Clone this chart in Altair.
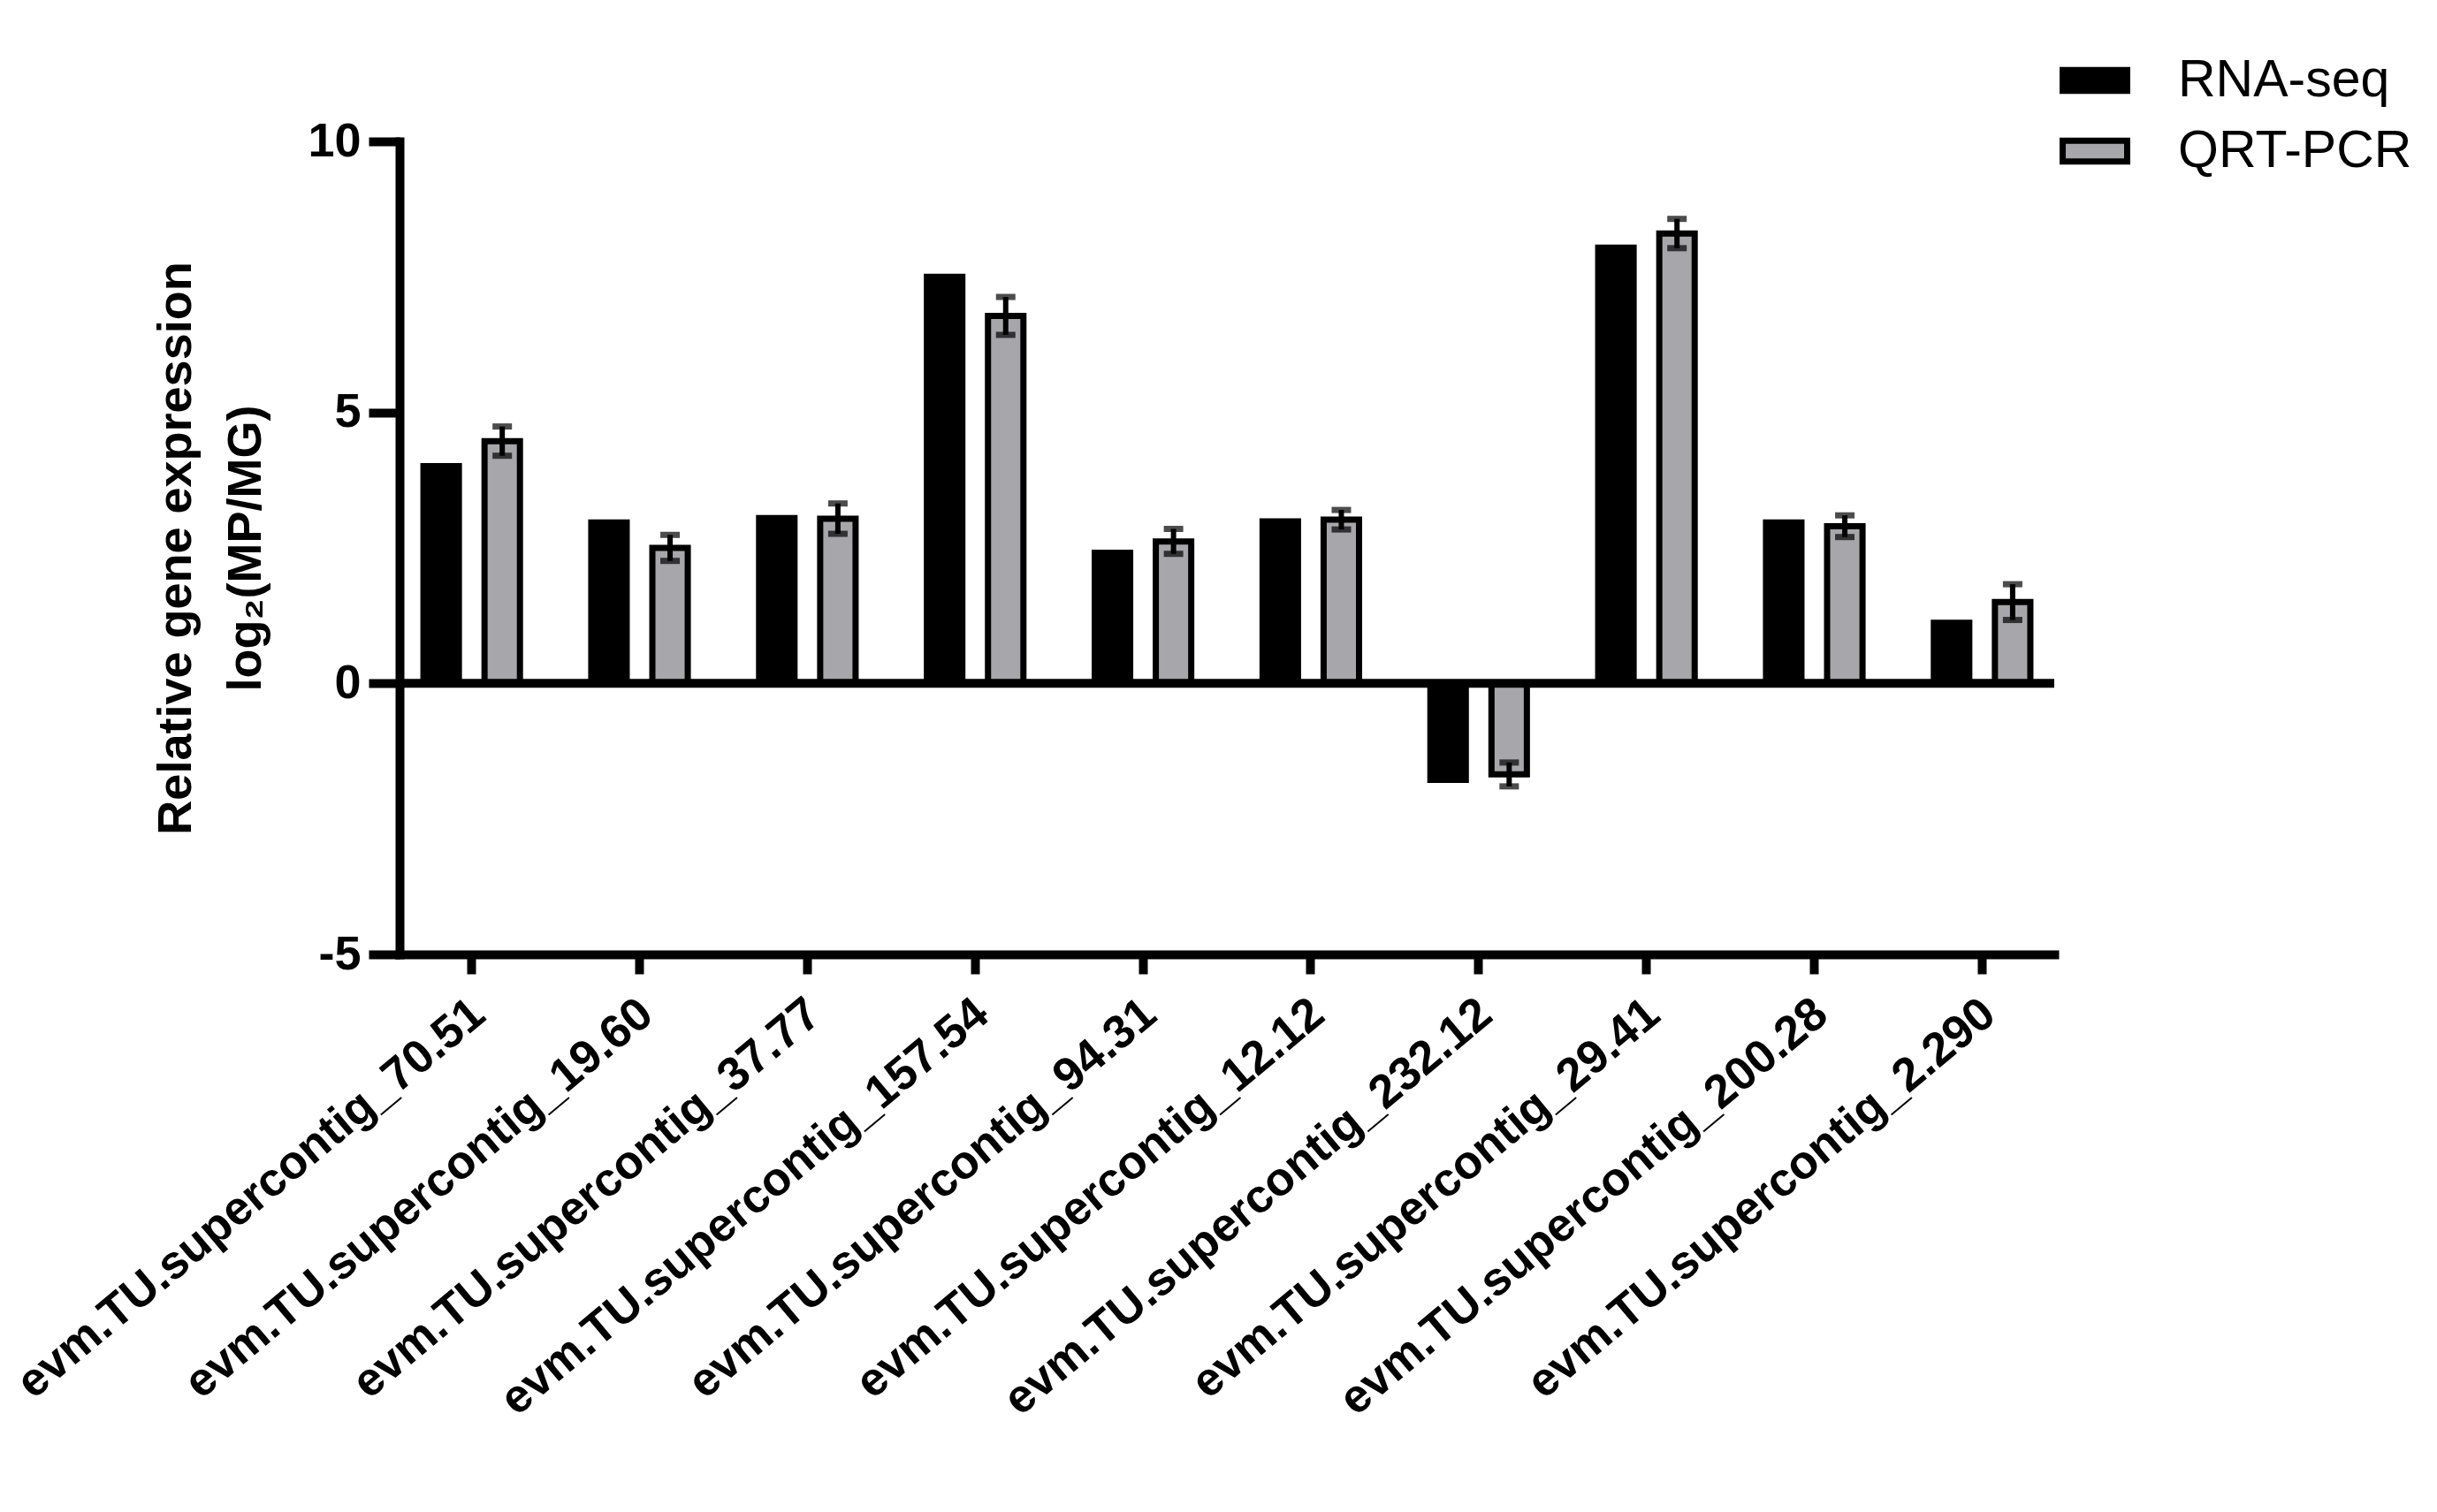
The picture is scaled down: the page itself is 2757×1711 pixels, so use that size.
import altair as alt
import pandas as pd

genes = [
    "evm.TU.supercontig_70.51", "evm.TU.supercontig_19.60", "evm.TU.supercontig_37.77",
    "evm.TU.supercontig_157.54", "evm.TU.supercontig_94.31", "evm.TU.supercontig_12.12",
    "evm.TU.supercontig_232.12", "evm.TU.supercontig_29.41", "evm.TU.supercontig_200.28",
    "evm.TU.supercontig_2.290",
]
series = ["RNA-seq", "QRT-PCR"]
rna_seq = [4.01, 2.97, 3.05, 7.50, 2.41, 2.99, -1.78, 8.04, 2.97, 1.12]
qrt_pcr = [4.47, 2.50, 3.04, 6.78, 2.62, 3.02, -1.68, 8.30, 2.90, 1.50]
qrt_err = [0.27, 0.24, 0.28, 0.35, 0.23, 0.18, 0.22, 0.27, 0.20, 0.33]
y_ticks = [-5, 0, 5, 10]

rows = []
for g, r, q, e in zip(genes, rna_seq, qrt_pcr, qrt_err):
    rows.append({"gene": g, "series": "RNA-seq", "value": r, "lo": None, "hi": None})
    rows.append({"gene": g, "series": "QRT-PCR", "value": q, "lo": q - e, "hi": q + e})
df = pd.DataFrame(rows)

FONT = "Liberation Sans"

x_enc = alt.X(
    "gene:N", sort=genes,
    scale=alt.Scale(paddingInner=0.425, paddingOuter=0.1425),
    axis=alt.Axis(
        title=None, labelAngle=-40, labelAlign="right", labelBaseline="middle",
        labelFontSize=53, labelFontWeight="bold", labelFont=FONT, labelColor="black",
        labelPadding=38, labelOffset=8, labelOverlap=False, labelLimit=2000,
        tickSize=22, tickWidth=10, tickColor="black",
        domainWidth=10, domainColor="black", domainCap="square",
    ),
)
xoff_enc = alt.XOffset("series:N", sort=series, scale=alt.Scale(paddingInner=0.42))
y_scale = alt.Scale(domain=[-5, 10], nice=False)

base = alt.Chart(df)

bars = base.mark_bar(stroke="black", strokeWidth=7).encode(
    x=x_enc,
    xOffset=xoff_enc,
    y=alt.Y(
        "value:Q", scale=y_scale,
        axis=alt.Axis(
            values=y_ticks, grid=False,
            labelExpr="datum.value < 0 ? '-' + toString(-datum.value) : toString(datum.value)",
            title=["Relative gene expression", "log\u2082(MP/MG)"],
            titleFontSize=54, titleFontWeight="bold", titleFont=FONT, titleColor="black",
            titleLineHeight=79, titlePadding=42,
            labelFontSize=54, labelFontWeight="bold", labelFont=FONT, labelColor="black",
            labelPadding=9,
            tickSize=35, tickWidth=10, tickColor="black",
            domainWidth=10, domainColor="black", domainCap="square",
        ),
    ),
    fill=alt.Fill(
        "series:N",
        scale=alt.Scale(domain=series, range=["black", "#a7a6ab"]),
        legend=alt.Legend(
            title=None, orient="none", legendX=1878, legendY=-109,
            labelFontSize=59, labelFont=FONT, labelColor="black", labelOffset=54,
            labelLimit=1000,
            symbolType="M-1,-0.32H1V0.32H-1Z", symbolSize=5329,
            symbolStrokeColor="black", symbolStrokeWidth=7, rowPadding=10, padding=0,
        ),
    ),
)

err = base.transform_filter("datum.series == 'QRT-PCR'")
stems = err.mark_rule(color="black", strokeWidth=6).encode(
    x=alt.X("gene:N", sort=genes), xOffset=alt.XOffset("series:N", sort=series),
    y="lo:Q", y2="hi:Q",
)
caps_lo = err.mark_tick(color="black", thickness=7, size=22).encode(
    x=alt.X("gene:N", sort=genes), xOffset=alt.XOffset("series:N", sort=series),
    y="lo:Q",
)
caps_hi = err.mark_tick(color="black", thickness=7, size=22).encode(
    x=alt.X("gene:N", sort=genes), xOffset=alt.XOffset("series:N", sort=series),
    y="hi:Q",
)
zero = alt.Chart(pd.DataFrame({"z": [0]})).mark_rule(color="black", strokeWidth=10).encode(
    y=alt.Y("z:Q", scale=y_scale)
)

chart = alt.layer(bars, zero, stems, caps_lo, caps_hi).properties(
    width=1872, height=920,
    autosize=alt.AutoSizeParams(type="none"),
    padding={"left": 444, "top": 152, "right": 425, "bottom": 623},
    background="white",
).configure(font=FONT).configure_view(stroke=None, strokeWidth=0)

chart.save("out.html", embed_options={"renderer": "svg", "actions": False})
